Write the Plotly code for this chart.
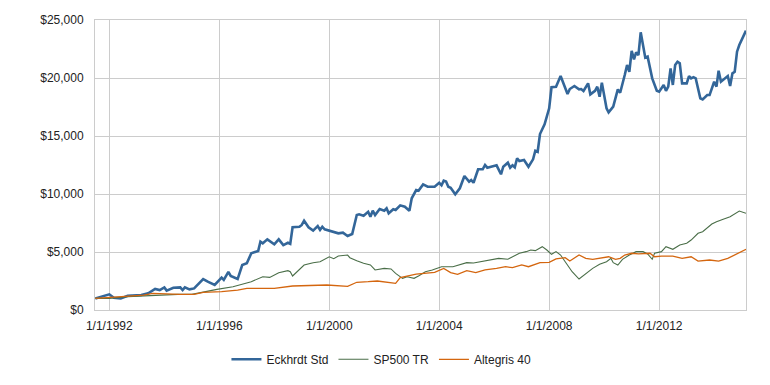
import pandas as pd
import plotly.graph_objects as go

# ---- data (growth of $1,000) ----
eck_dates = ["1991-06-30", "1992-01-01", "1992-03-01", "1992-06-01", "1992-09-01", "1993-03-01", "1993-06-01",
             "1993-09-01", "1993-11-01", "1994-01-01", "1994-02-01", "1994-05-01", "1994-08-01", "1994-09-01",
             "1994-10-01", "1994-12-01", "1995-02-01", "1995-06-01", "1995-08-01", "1995-11-01", "1996-02-01",
             "1996-03-01", "1996-05-01", "1996-06-01", "1996-09-01", "1996-11-01", "1997-01-01", "1997-03-01",
             "1997-06-01", "1997-07-01", "1997-08-01", "1997-10-01", "1998-01-01", "1998-03-01", "1998-05-01",
             "1998-07-01", "1998-08-01", "1998-09-01", "1998-12-01", "1999-01-01", "1999-02-01", "1999-04-01",
             "1999-06-01", "1999-08-01", "1999-09-01", "1999-10-01", "1999-11-01", "2000-02-01", "2000-05-01",
             "2000-07-01", "2000-09-01", "2000-11-01", "2001-01-01", "2001-02-01", "2001-04-01", "2001-06-01",
             "2001-07-01", "2001-08-01", "2001-09-01", "2001-11-01", "2002-01-01", "2002-02-01", "2002-03-01",
             "2002-05-01", "2002-06-01", "2002-08-01", "2002-10-01", "2002-12-01", "2003-01-01", "2003-03-01",
             "2003-04-01", "2003-06-01", "2003-08-01", "2003-11-01", "2004-01-01", "2004-02-01", "2004-03-01",
             "2004-04-01", "2004-05-01", "2004-06-01", "2004-08-01", "2004-10-01", "2004-12-01", "2005-02-01",
             "2005-03-01", "2005-04-01", "2005-06-01", "2005-08-01", "2005-09-01", "2005-10-01", "2006-02-01",
             "2006-04-01", "2006-05-01", "2006-07-01", "2006-08-01", "2006-09-01", "2006-10-01", "2006-11-01",
             "2006-12-01", "2007-02-01", "2007-04-01", "2007-06-01", "2007-07-01", "2007-08-01", "2007-09-01",
             "2007-11-01", "2008-01-01", "2008-02-01", "2008-04-01", "2008-06-01", "2008-09-01", "2008-10-01",
             "2008-12-01", "2009-02-01", "2009-03-01", "2009-04-01", "2009-06-01", "2009-07-01", "2009-09-01",
             "2009-10-01", "2009-11-01", "2009-12-01", "2010-02-01", "2010-03-01", "2010-05-01", "2010-07-01",
             "2010-08-01", "2010-10-01", "2010-11-01", "2010-12-01", "2011-01-01", "2011-02-01", "2011-03-01",
             "2011-04-01", "2011-05-01", "2011-07-01", "2011-08-01", "2011-10-01", "2011-12-01", "2012-01-01",
             "2012-03-01", "2012-04-01", "2012-05-01", "2012-06-01", "2012-07-01", "2012-08-01", "2012-09-01",
             "2012-10-01", "2012-11-01", "2013-01-01", "2013-02-01", "2013-03-01", "2013-04-01", "2013-05-01",
             "2013-07-01", "2013-08-01", "2013-10-01", "2013-11-01", "2014-01-01", "2014-02-01", "2014-03-01",
             "2014-04-01", "2014-06-01", "2014-07-01", "2014-08-01", "2014-09-01", "2014-10-01", "2014-11-01",
             "2014-12-01", "2015-02-28"]
eck_values = [1000, 1350, 1050, 1000, 1230, 1290, 1440,
              1810, 1720, 1950, 1670, 1920, 1950, 1720,
              1950, 1780, 1860, 2670, 2440, 2155, 2785,
              2590, 3280, 2930, 2670, 3880, 4025, 4890,
              5085, 5890, 5750, 6090, 5660, 6090, 5600,
              5800, 5700, 7130, 7180, 7330, 7700, 7130,
              6840, 7240, 6900, 7180, 6960, 6810, 6610,
              6670, 6380, 6550, 8190, 8250, 8130, 8470,
              8040, 8560, 8190, 8710, 8560, 8770, 8340,
              8680, 8620, 9020, 8900, 8560, 9630, 10340,
              10280, 10830, 10630, 10630, 10970, 10750, 11150,
              11070, 10630, 10540, 9970, 10490, 11550, 11060,
              11210, 10970, 12130, 12130, 12500, 12270, 12470,
              11700, 12350, 12700, 12270, 12470, 12300, 13080,
              12840, 12930, 12350, 12990, 13730, 13640, 15170,
              16000, 17390, 19200, 19250, 20170, 18620, 19050,
              19310, 19020, 19050, 18880, 19540, 18590, 18900,
              19250, 18390, 19600, 17390, 17040, 17530, 19020,
              18730, 20260, 21120, 20540, 22330, 21610, 22210,
              21980, 23940, 21750, 21840, 19970, 18900, 18820,
              19400, 18900, 19250, 20830, 19400, 21120, 21400,
              21270, 19540, 19540, 20170, 19970, 20070, 19970,
              18250, 18160, 18530, 18530, 19680, 19250, 20630,
              19680, 19970, 20170, 19310, 20400, 20540, 22270,
              22840, 24080]

sp_dates = ["1991-06-30", "1992-01-01", "1992-09-01", "1993-04-01", "1993-11-01", "1994-07-01", "1995-01-01",
            "1995-05-01", "1995-12-01", "1996-07-01", "1996-12-01", "1997-03-01", "1997-08-01", "1997-11-01",
            "1998-03-01", "1998-07-01", "1998-08-01", "1998-09-01", "1999-02-01", "1999-06-01", "1999-09-01",
            "2000-01-01", "2000-03-01", "2000-05-01", "2000-09-01", "2000-10-01", "2001-01-01", "2001-04-01",
            "2001-07-01", "2001-09-01", "2002-01-01", "2002-04-01", "2002-06-01", "2002-09-01", "2002-11-01",
            "2003-02-01", "2003-04-01", "2003-07-01", "2003-10-01", "2004-02-01", "2004-07-01", "2005-01-01",
            "2005-04-01", "2005-09-01", "2006-03-01", "2006-07-01", "2006-12-01", "2007-03-01", "2007-05-01",
            "2007-07-01", "2007-10-01", "2007-12-01", "2008-02-01", "2008-04-01", "2008-06-01", "2008-08-01",
            "2008-11-01", "2009-02-01", "2009-05-01", "2009-08-01", "2009-11-01", "2010-02-01", "2010-04-01",
            "2010-05-01", "2010-07-01", "2010-09-01", "2010-12-01", "2011-03-01", "2011-06-01", "2011-08-01",
            "2011-10-01", "2011-11-01", "2012-02-01", "2012-04-01", "2012-07-01", "2012-10-01", "2013-01-01",
            "2013-03-01", "2013-06-01", "2013-08-01", "2013-12-01", "2014-02-01", "2014-05-01", "2014-08-01",
            "2014-12-01", "2015-02-28"]
sp_values = [1000, 1000, 1150, 1230, 1290, 1350, 1350,
             1520, 1780, 2010, 2300, 2440, 2870, 2810,
             3220, 3390, 3300, 2930, 3880, 4080, 4160,
             4590, 4420, 4650, 4740, 4510, 4250, 4030,
             3880, 3450, 3590, 3540, 3160, 2730, 2870,
             2730, 2930, 3300, 3450, 3730, 3730, 4080,
             4050, 4220, 4450, 4370, 4890, 5030, 5170,
             5120, 5460, 5170, 4800, 5030, 4740, 4160,
             3300, 2670, 3160, 3590, 3940, 4160, 4450,
             4080, 3880, 4370, 4740, 5030, 5030, 4830,
             4370, 4890, 5030, 5460, 5230, 5600, 5750,
             6030, 6610, 6750, 7410, 7610, 7820, 8040,
             8530, 8340]

alt_dates = ["1991-06-30", "1992-02-01", "1992-09-01", "1993-04-01", "1993-08-01", "1994-02-01", "1994-08-01",
             "1995-02-01", "1995-06-01", "1996-02-01", "1996-09-01", "1997-01-01", "1997-07-01", "1998-01-01",
             "1998-09-01", "1999-05-01", "1999-12-01", "2000-09-01", "2001-01-01", "2001-06-01", "2001-10-01",
             "2002-06-01", "2002-08-01", "2003-03-01", "2003-06-01", "2003-09-01", "2003-11-01", "2004-03-01",
             "2004-06-01", "2004-09-01", "2005-01-01", "2005-05-01", "2005-09-01", "2006-02-01", "2006-06-01",
             "2006-09-01", "2007-01-01", "2007-04-01", "2007-09-01", "2008-01-01", "2008-04-01", "2008-08-01",
             "2008-10-01", "2009-02-01", "2009-05-01", "2009-08-01", "2009-11-01", "2010-03-01", "2010-06-01",
             "2010-08-01", "2010-10-01", "2011-01-01", "2011-04-01", "2011-09-01", "2011-11-01", "2012-02-01",
             "2012-07-01", "2012-11-01", "2013-03-01", "2013-06-01", "2013-11-01", "2014-03-01", "2014-07-01",
             "2014-10-01", "2015-02-28"]
alt_values = [1000, 1090, 1200, 1290, 1440, 1380, 1350,
              1350, 1520, 1580, 1720, 1870, 1870, 1870,
              2070, 2100, 2155, 2030, 2390, 2440, 2500,
              2300, 2790, 3100, 3150, 3220, 3250, 3590,
              3220, 3080, 3390, 3220, 3450, 3590, 3730,
              3650, 3880, 3730, 4080, 4100, 4400, 4510,
              4220, 4740, 4450, 4370, 4450, 4590, 4370,
              4450, 4740, 4890, 4830, 4890, 4590, 4650,
              4650, 4450, 4590, 4220, 4310, 4220, 4450,
              4740, 5230]

series_names = ["Eckhrdt Std", "SP500 TR", "Altegris 40"]
x_tick_dates = ["1992-01-01", "1996-01-01", "2000-01-01", "2004-01-01", "2008-01-01", "2012-01-01"]
x_tick_labels = ["1/1/1992", "1/1/1996", "1/1/2000", "1/1/2004", "1/1/2008", "1/1/2012"]
y_ticks = [0, 5000, 10000, 15000, 20000, 25000]
y_tick_labels = ["$0", "$5,000", "$10,000", "$15,000", "$20,000", "$25,000"]

colors = ["#336699", "#4a6e48", "#d4660f"]
widths = [2.6, 1.1, 1.3]

fig = go.Figure()
for name, d, v, c, w in zip(series_names,
                            [eck_dates, sp_dates, alt_dates],
                            [eck_values, sp_values, alt_values],
                            colors, widths):
    fig.add_trace(go.Scatter(x=pd.to_datetime(d), y=v, mode="lines", name=name,
                             line=dict(color=c, width=w)))

font_family = "Liberation Sans, Arial, sans-serif"
# page body has an 8px margin, so the figure is drawn 8px smaller with offsets compensated
fig.update_layout(
    width=762, height=377,
    margin=dict(l=87, r=24, t=12, b=75, autoexpand=False),
    paper_bgcolor="white", plot_bgcolor="white",
    font=dict(family=font_family, size=12, color="#222222"),
    showlegend=True,
    legend=dict(orientation="h", x=0.44, xanchor="center", y=-0.17, yanchor="middle",
                font=dict(size=12, color="#222222"), bgcolor="rgba(0,0,0,0)"),
)
fig.update_xaxes(
    type="date", range=["1991-06-25", "2015-02-28"],
    tickvals=pd.to_datetime(x_tick_dates), ticktext=x_tick_labels,
    showgrid=True, gridcolor="#cccccc", gridwidth=1,
    showline=True, linecolor="#cccccc", linewidth=1, mirror=True,
    ticks="outside", ticklen=5, tickcolor="rgba(0,0,0,0)",
    zeroline=False, tickfont=dict(size=12, color="#222222"), automargin=False,
)
fig.update_yaxes(
    range=[0, 25000], tickvals=y_ticks, ticktext=y_tick_labels,
    showgrid=True, gridcolor="#cccccc", gridwidth=1,
    showline=True, linecolor="#cccccc", linewidth=1, mirror=True,
    ticks="outside", ticklen=8, tickcolor="rgba(0,0,0,0)",
    zeroline=False, tickfont=dict(size=12, color="#222222"), automargin=False,
)

fig.write_html("out.html")
